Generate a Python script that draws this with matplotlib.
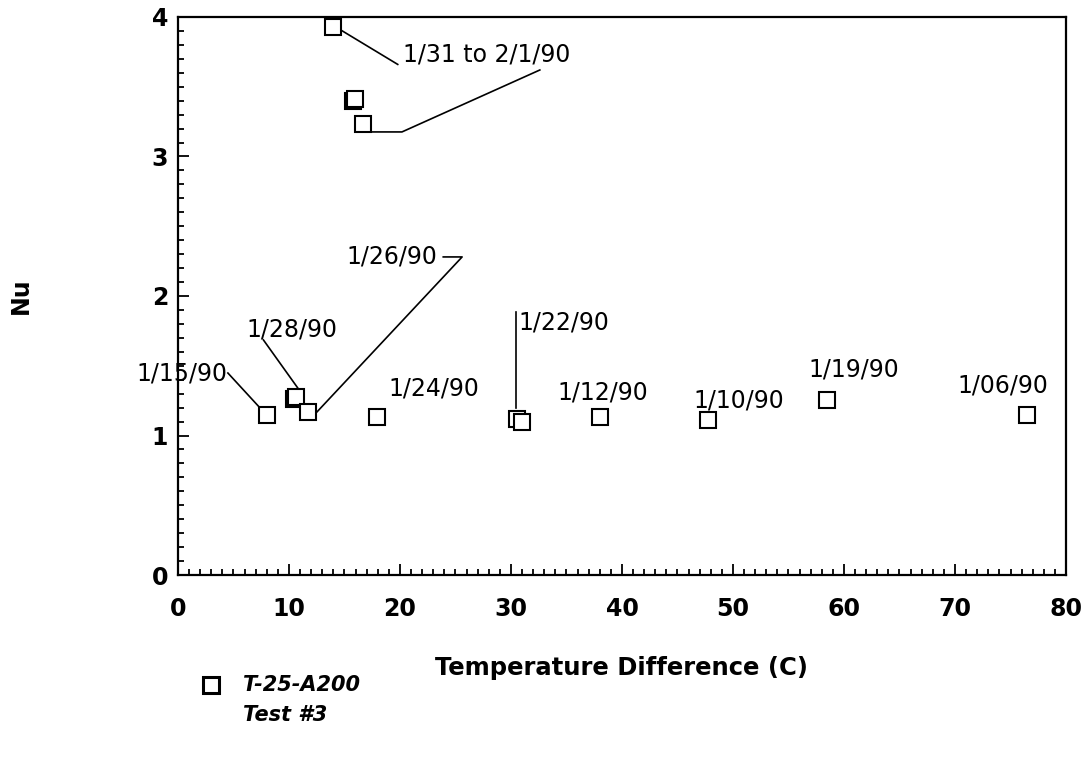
import matplotlib
matplotlib.use("Agg")
import matplotlib.pyplot as plt
from matplotlib.lines import Line2D
from matplotlib.ticker import MultipleLocator

# Data (temperature difference in C, Nusselt number)
temp_diff = [13.96, 15.75, 15.95, 16.67, 8.0, 10.45, 10.6, 11.7, 17.9, 30.5, 31.0, 38.0, 47.75, 58.47, 76.5]
nu = [3.93, 3.40, 3.41, 3.233, 1.147, 1.265, 1.275, 1.168, 1.13, 1.12, 1.10, 1.133, 1.111, 1.254, 1.147]

x_ticks = [0, 10, 20, 30, 40, 50, 60, 70, 80]
y_ticks = [0, 1, 2, 3, 4]

# Annotations: label, text position, alignment, leader-line path (data coords)
labels = ["1/31 to 2/1/90", "1/26/90", "1/28/90", "1/15/90", "1/22/90",
          "1/24/90", "1/12/90", "1/10/90", "1/19/90", "1/06/90"]
label_x = [20.27, 23.33, 10.27, 4.5, 30.63, 18.92, 34.23, 46.4, 56.76, 70.18]
label_y = [3.728, 2.28, 1.763, 1.448, 1.81, 1.34, 1.305, 1.254, 1.47, 1.355]
label_ha = ["left", "right", "center", "right", "left", "left", "left", "left", "left", "left"]
leaders = [
    [(14.6, 3.91), (19.8, 3.66)],
    [(32.6, 3.62), (20.18, 3.176), (17.3, 3.176)],
    [(23.9, 2.28), (25.6, 2.28), (12.3, 1.15)],
    [(7.7, 1.685), (10.8, 1.34)],
    [(4.5, 1.448), (7.6, 1.18)],
    [(30.45, 1.885), (30.45, 1.20)],
]

fig = plt.figure(figsize=(10.85, 7.58), dpi=100)
ax = fig.add_axes([0.164, 0.2414, 0.8185, 0.7362])

ax.plot(temp_diff, nu, linestyle="none", marker="s", markersize=11,
        markerfacecolor="white", markeredgecolor="black", markeredgewidth=1.5, zorder=3)

for path in leaders:
    xs = [p[0] for p in path]
    ys = [p[1] for p in path]
    ax.plot(xs, ys, color="black", linewidth=1.2, zorder=2)

for lab, lx, ly, ha in zip(labels, label_x, label_y, label_ha):
    ax.text(lx, ly, lab, ha=ha, va="center", fontsize=17, family="DejaVu Sans",
            clip_on=False)

ax.set_xlim(0, 80)
ax.set_ylim(0, 4)
ax.set_xticks(x_ticks)
ax.set_yticks(y_ticks)
ax.xaxis.set_minor_locator(MultipleLocator(1))
ax.yaxis.set_minor_locator(MultipleLocator(0.1))
ax.tick_params(which="both", direction="in", width=1.3, top=False, right=False)
ax.tick_params(which="major", length=8, labelsize=17)
ax.tick_params(axis="x", which="major", pad=16)
ax.tick_params(axis="y", which="major", pad=7)
ax.tick_params(which="minor", length=4.5)
for lbl in ax.get_xticklabels() + ax.get_yticklabels():
    lbl.set_fontweight("bold")
for s in ax.spines.values():
    s.set_linewidth(1.6)

ax.set_xlabel("Temperature Difference (C)", fontsize=17.5, fontweight="bold", va="center")
ax.xaxis.set_label_coords(0.499, -0.1667)
ax.set_ylabel("Nu", fontsize=17, fontweight="bold", va="center")
ax.yaxis.set_label_coords(-0.177, 0.5)

# Legend-like block below the axes
fig.add_artist(Line2D([0.1945], [0.0963], marker="s", markersize=11, linestyle="none",
                      markerfacecolor="white", markeredgecolor="black", markeredgewidth=2.2,
                      transform=fig.transFigure))
fig.text(0.224, 0.0963, "T-25-A200", fontsize=15, fontweight="bold", style="italic", va="center")
fig.text(0.224, 0.0567, "Test #3", fontsize=15, fontweight="bold", style="italic", va="center")

fig.savefig("out.png", dpi=100, facecolor="white")
